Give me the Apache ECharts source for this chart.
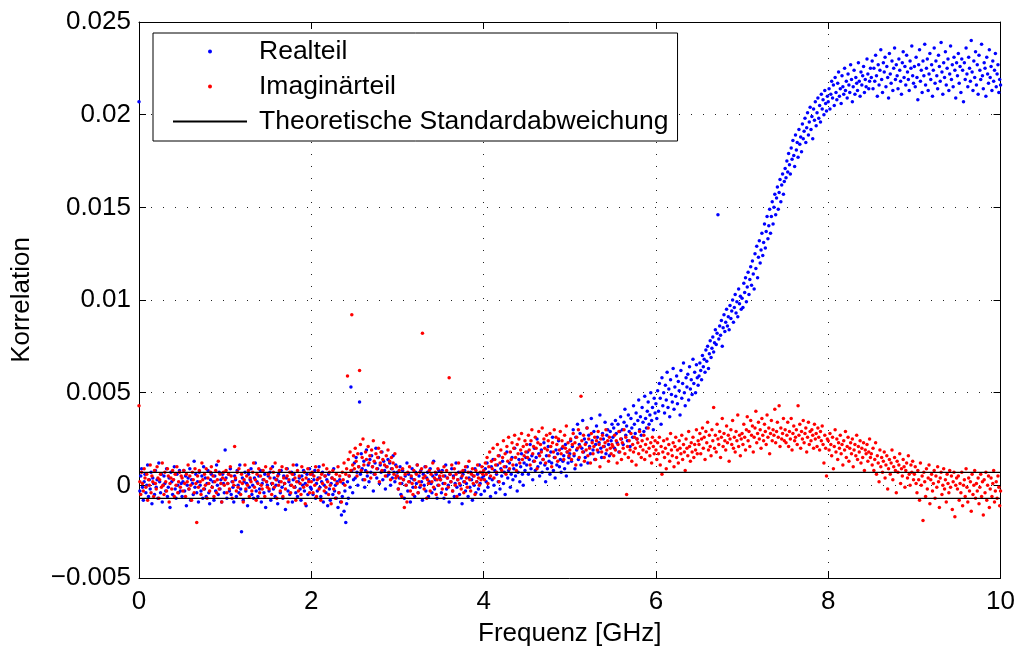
<!DOCTYPE html>
<html>
<head>
<meta charset="utf-8">
<script src="https://cdn.jsdelivr.net/npm/echarts@6/dist/echarts.min.js"></script>
<style>
html,body{margin:0;padding:0;background:#fff;}
#chart{width:1018px;height:652px;}
</style>
</head>
<body>
<div id="chart"></div>
<script>
// Values, in units of 1e-4 (correlation), one value every 0.01 GHz from 0 to 10 GHz
const VALUE_UNIT = 1e-4;
const FREQ_START = 0;      // GHz
const FREQ_STEP = 0.01;    // GHz

const realteil = [
  207,-3,5,9,-1,-8,2,6,-4,0,11,-6,3,-2,7,-10,4,1,-5,8,-1,3,-7,12,2,-4,6,-9,0,5,1,-3,9,-6,-1,4,-12,7,2,-5,3,10,-2,-7,6,0,-4,8,-3,1,
  -6,2,8,-3,5,-11,0,4,-2,9,-8,3,1,-5,13,-1,6,-4,2,-9,7,0,-3,5,-7,10,-2,4,-6,1,8,-4,-10,3,6,-1,2,-8,5,-3,11,0,-5,7,-2,3,-9,6,1,-4,
  19,4,-7,1,6,-3,9,-5,2,-1,-9,5,3,-6,8,0,-4,11,-2,-25,4,-8,2,7,-3,1,-11,6,-1,3,9,-5,0,-7,4,12,-3,2,-6,5,-2,8,-9,1,3,-4,6,-12,2,0,
  5,-3,7,-8,1,10,-2,4,-6,0,3,-10,6,2,-4,8,-1,-7,5,1,-13,4,9,-3,2,-5,0,7,-9,3,6,-1,-4,11,-6,2,4,-2,-8,5,0,8,-3,1,-11,6,-5,3,9,-1,
  -2,6,-5,3,8,-7,1,-3,4,10,-1,-6,2,7,-9,0,5,-4,3,-11,6,-2,-8,1,4,-5,9,-3,0,-7,2,-12,-4,3,-9,-16,-6,1,-14,-3,-20,-10,2,-7,5,-1,53,8,-4,3,
  12,4,15,7,0,10,45,6,17,9,3,13,-1,8,19,5,11,2,14,7,16,10,-3,6,12,20,4,9,15,1,11,7,18,3,13,8,-2,10,5,14,6,12,0,9,4,16,7,2,11,5,
  7,-2,4,10,-5,1,8,3,-7,5,0,12,-3,6,2,-9,4,9,-1,3,-6,7,1,11,-4,5,-1,8,2,-8,6,0,10,-3,4,7,-6,2,9,1,-4,5,13,-2,3,6,-7,0,8,4,
  3,-4,8,1,-7,5,11,-2,4,0,-9,6,2,9,-3,5,-6,1,12,-1,3,7,-5,0,4,-10,6,2,8,-3,1,10,-6,4,-1,7,3,-8,5,0,9,-4,2,6,-2,11,1,-5,4,7,
  5,-3,9,2,12,-1,7,4,-6,10,3,14,0,8,-4,6,11,2,16,-2,9,5,13,1,7,-5,10,18,4,8,12,-1,6,15,3,9,20,5,11,-3,7,14,2,10,17,6,0,12,8,15,
  11,18,6,14,22,9,16,3,13,20,8,15,25,10,17,5,12,19,7,14,23,11,2,16,9,21,13,6,18,12,26,8,15,4,19,11,17,24,10,14,7,20,13,16,9,22,5,18,12,15,
  17,24,13,21,30,16,9,26,19,33,14,22,28,11,20,35,18,25,15,23,31,12,27,21,17,36,24,19,29,14,22,32,26,18,23,38,20,15,28,25,21,34,17,27,30,22,16,29,24,33,
  26,31,20,35,28,23,33,18,29,37,25,30,22,34,41,27,32,24,38,29,21,36,31,26,43,33,28,39,25,35,46,30,37,27,42,34,29,48,36,31,40,45,33,38,50,35,42,30,47,39,
  44,36,51,40,55,47,33,58,43,50,39,54,46,61,42,52,37,57,49,45,63,41,53,48,59,44,56,51,38,62,47,55,66,50,43,58,53,60,46,64,52,57,49,68,55,61,50,65,58,54,
  59,66,62,57,70,64,68,61,73,67,75,63,71,78,69,74,80,72,77,84,76,82,146,79,86,81,89,75,85,92,83,88,95,86,91,84,97,90,94,100,88,96,103,93,99,91,106,98,102,95,
  101,96,109,104,112,99,107,115,103,111,118,108,121,114,106,125,117,129,112,123,132,120,127,136,124,131,141,128,137,145,133,140,149,136,145,153,141,150,157,146,155,161,149,158,165,153,162,168,157,164,
  171,166,175,169,179,173,168,182,176,186,178,172,189,181,185,177,192,184,188,180,195,187,191,198,185,193,201,189,196,204,192,199,187,203,197,207,194,201,209,198,205,196,211,203,208,200,213,206,202,210,
  207,214,203,211,218,209,216,205,220,212,208,217,223,210,214,206,221,215,211,225,213,218,209,222,216,212,227,219,207,215,224,211,220,217,213,228,218,210,223,216,221,226,212,219,215,230,222,214,218,225,
  220,229,214,225,218,232,221,210,227,216,224,235,219,212,228,223,231,215,226,220,209,233,222,217,229,213,225,236,219,227,221,214,230,224,218,211,228,234,220,226,216,232,223,219,213,229,225,237,221,217,
  226,215,231,220,208,227,235,218,224,212,229,221,238,216,225,230,213,222,233,219,227,210,224,236,217,229,221,214,232,226,218,239,223,211,228,220,234,216,225,230,213,222,237,219,227,215,231,224,209,228,
  221,233,217,226,212,230,224,207,228,219,236,222,215,231,225,218,240,223,213,229,220,234,216,227,211,232,224,219,238,221,214,228,225,210,231,222,217,235,220,226,213,229,218,224,233,215,222,227,212,219,216
];

const imaginaerteil = [
  43,2,-5,7,1,-3,9,4,-1,6,-8,3,0,11,-4,5,2,-6,8,1,-2,10,4,-7,3,6,-1,12,0,-5,7,2,-3,9,5,-9,1,4,-2,8,3,-6,6,0,10,-4,2,7,-1,5,
  4,-3,8,1,-6,6,2,11,-2,5,0,-8,7,3,-4,9,1,-20,5,-1,8,2,-5,12,3,-2,6,0,9,-7,4,1,-3,7,10,-1,5,-6,2,8,-4,3,13,-2,6,1,-9,4,7,0,
  3,8,-4,1,6,-2,10,5,-7,2,0,21,4,-3,7,-1,9,2,-5,6,1,-9,3,11,-2,5,0,8,-6,4,2,-3,7,12,-1,3,-8,6,1,9,-4,5,0,-2,8,3,-6,10,2,-1,
  6,-2,4,9,-5,1,7,-1,12,3,-7,5,0,8,-3,2,10,-6,4,1,-2,9,5,-9,3,7,-4,0,6,11,-1,4,-8,2,8,-3,5,1,-5,10,3,-1,7,-10,4,0,9,2,-4,6,
  2,7,-4,5,0,10,-6,3,8,-2,4,-8,6,1,11,-3,5,-1,9,2,-5,7,0,-10,4,8,-2,3,-7,6,1,10,-4,5,2,-9,7,3,12,0,6,9,59,14,5,18,8,92,11,16,
  9,20,13,5,17,10,62,22,8,15,25,11,3,18,14,7,21,12,16,4,19,10,24,13,6,17,9,15,20,2,12,18,8,14,23,11,5,16,10,19,7,13,3,15,9,12,6,17,4,10,
  5,-2,8,1,4,-6,9,3,-12,6,0,-9,7,2,10,-3,5,1,-5,8,3,-1,6,11,-4,2,7,0,9,82,4,-2,5,10,-7,3,1,8,-3,6,2,12,-1,4,7,-5,3,9,0,5,
  3,7,-2,5,10,1,-5,8,4,-1,58,6,2,11,-3,4,9,0,6,-6,3,12,1,7,-2,5,8,-4,2,10,4,-1,7,13,3,-3,6,9,1,5,-5,8,2,11,4,0,7,3,10,6,
  8,3,12,6,15,1,10,18,5,13,9,20,4,14,11,7,22,16,2,12,19,8,15,24,10,17,6,21,13,26,9,18,14,23,11,20,27,15,8,22,17,25,12,19,28,14,21,16,24,18,
  22,15,27,19,11,24,30,17,21,13,26,20,9,23,29,16,22,18,31,14,25,20,12,27,19,24,16,28,21,10,23,18,30,15,26,22,13,25,19,29,17,24,21,14,27,20,32,18,23,16,
  19,25,14,22,28,17,23,11,26,20,30,15,21,48,24,18,27,13,22,19,31,16,25,20,12,28,23,17,21,26,14,24,19,29,22,10,25,18,27,21,15,23,30,19,24,13,26,20,17,22,
  21,16,27,19,24,12,22,29,18,25,14,23,20,30,17,26,-5,21,15,24,19,28,13,22,18,26,20,11,25,23,17,29,21,15,24,19,27,14,22,18,25,31,20,16,23,12,26,21,17,24,
  19,14,23,17,26,11,21,6,18,24,15,20,9,25,17,22,13,28,19,16,23,10,21,26,15,19,12,24,20,17,27,14,22,18,8,25,20,16,29,21,13,23,18,26,15,22,19,30,17,24,
  22,28,17,25,31,20,26,14,29,23,34,19,27,21,16,30,24,42,20,27,18,33,25,22,29,15,26,36,21,28,24,19,32,23,27,13,25,30,22,35,20,26,18,29,24,38,21,27,16,25,
  28,22,33,26,19,30,37,24,29,21,35,27,32,18,26,31,40,23,28,34,25,30,20,36,27,24,33,29,22,38,26,31,17,28,35,24,30,27,41,23,29,34,26,43,21,31,25,28,36,24,
  30,23,27,34,21,29,25,36,19,28,32,24,26,30,22,43,27,33,20,29,25,35,23,28,31,18,26,34,22,29,24,30,27,20,33,25,28,21,31,26,19,29,24,32,22,12,27,20,5,25,
  24,19,28,22,16,26,9,21,30,18,25,14,23,20,27,17,22,11,24,19,29,15,21,26,13,20,23,17,25,10,19,22,16,27,14,21,18,24,12,20,15,23,8,19,17,22,13,18,25,15,
  17,11,20,8,14,23,6,16,12,2,19,10,15,7,13,18,4,11,16,-2,9,14,6,12,19,3,10,15,8,-4,13,7,11,17,1,9,5,14,10,-1,8,12,4,16,6,0,11,7,13,3,
  6,10,1,-4,8,3,-8,12,0,5,-19,7,2,-6,9,-2,4,11,-10,3,6,-3,1,8,-7,5,-1,10,2,-12,4,7,-5,0,9,-2,3,-9,6,1,-4,8,-1,5,-13,2,7,-17,0,4,
  -2,5,-8,1,-4,7,-11,0,3,-6,9,-1,-9,4,-3,2,-14,6,-5,0,8,-7,1,-3,4,-10,-1,6,-6,2,-16,3,-4,7,-8,0,5,-12,-2,4,-6,1,8,-9,-3,2,-7,5,-1,-11,-3
];

const theoreticalStd = 0.0007;
const xRange = [0, 10];
const xTickStep = 2;
const yTickValues = [-0.005, 0, 0.005, 0.01, 0.015, 0.02, 0.025];
const yTickLabels = ['\u22120.005', '0', '0.005', '0.01', '0.015', '0.02', '0.025'];
const seriesNames = ['Realteil', 'Imagin\u00e4rteil', 'Theoretische Standardabweichung'];

const FONT = 'Liberation Sans, Arial, Helvetica, sans-serif';
const FS = 26;

function toPairs(vals) {
  return vals.map((v, i) => [FREQ_START + i * FREQ_STEP, v * VALUE_UNIT]);
}
const yMin = yTickValues[0], yMax = yTickValues[yTickValues.length - 1];
const yStep = yTickValues[1] - yTickValues[0];
function yFmt(v) {
  const idx = Math.round((v - yMin) / yStep);
  return yTickLabels[idx] !== undefined ? yTickLabels[idx] : '';
}

const gridDot = { color: '#222', width: 1, type: [1, 11] };
const boxAxisLine = { show: true, onZero: false, lineStyle: { color: '#000', width: 1 } };
const boxTick = { show: true, inside: true, length: 7, lineStyle: { color: '#000' } };

const chart = echarts.init(document.getElementById('chart'), null, { renderer: 'canvas' });
chart.setOption({
  animation: false,
  backgroundColor: '#fff',
  grid: { left: 139, right: 17, top: 22, bottom: 72 },
  legend: {
    orient: 'vertical',
    left: 153, top: 33,
    padding: [5, 9, 6, 19],
    itemGap: 8,
    itemWidth: 74, itemHeight: 4,
    backgroundColor: '#fff',
    borderColor: '#000', borderWidth: 1,
    data: [
      { name: seriesNames[0] },
      { name: seriesNames[1] },
      { name: seriesNames[2], itemStyle: { opacity: 0 } }
    ],
    textStyle: { fontSize: 26.5, fontFamily: FONT, color: '#000', lineHeight: 26, padding: [0, 0, 0, 7] }
  },
  xAxis: [{
    type: 'value', min: xRange[0], max: xRange[1], interval: xTickStep, position: 'bottom',
    axisLine: boxAxisLine, axisTick: boxTick,
    axisLabel: { margin: 11, fontSize: FS, fontFamily: FONT, color: '#000' },
    splitLine: { show: true, lineStyle: gridDot },
    name: 'Frequenz [GHz]', nameLocation: 'middle', nameGap: 43,
    nameTextStyle: { fontSize: FS, fontFamily: FONT, color: '#000' }
  }, {
    type: 'value', min: xRange[0], max: xRange[1], interval: xTickStep, position: 'top',
    axisLine: boxAxisLine, axisTick: boxTick,
    axisLabel: { show: false }, splitLine: { show: false }
  }],
  yAxis: [{
    type: 'value', min: yMin, max: yMax, interval: yStep, position: 'left',
    axisLine: boxAxisLine, axisTick: boxTick,
    axisLabel: { margin: 8, fontSize: FS, fontFamily: FONT, color: '#000', formatter: yFmt },
    splitLine: { show: true, lineStyle: gridDot },
    name: 'Korrelation', nameLocation: 'middle', nameGap: 104, nameRotate: 90,
    nameTextStyle: { fontSize: FS, fontFamily: FONT, color: '#000' }
  }, {
    type: 'value', min: yMin, max: yMax, interval: yStep, position: 'right',
    axisLine: boxAxisLine, axisTick: boxTick,
    axisLabel: { show: false }, splitLine: { show: false }
  }],
  series: [{
    name: seriesNames[0], type: 'scatter', data: toPairs(realteil),
    symbol: 'circle', symbolSize: 3.5, itemStyle: { color: '#0000ff', opacity: 1 }, z: 3
  }, {
    name: seriesNames[1], type: 'scatter', data: toPairs(imaginaerteil),
    symbol: 'circle', symbolSize: 3.5, itemStyle: { color: '#ff0000', opacity: 1 }, z: 4
  }, {
    name: seriesNames[2], type: 'line', data: [[xRange[0], theoreticalStd], [xRange[1], theoreticalStd]],
    symbol: 'none', showSymbol: false, lineStyle: { color: '#000', width: 1.3 }, itemStyle: { color: '#000' }, z: 5
  }, {
    name: seriesNames[2], type: 'line', data: [[xRange[0], -theoreticalStd], [xRange[1], -theoreticalStd]],
    symbol: 'none', showSymbol: false, lineStyle: { color: '#000', width: 1.3 }, itemStyle: { color: '#000' }, z: 5
  }]
});
</script>
</body>
</html>
